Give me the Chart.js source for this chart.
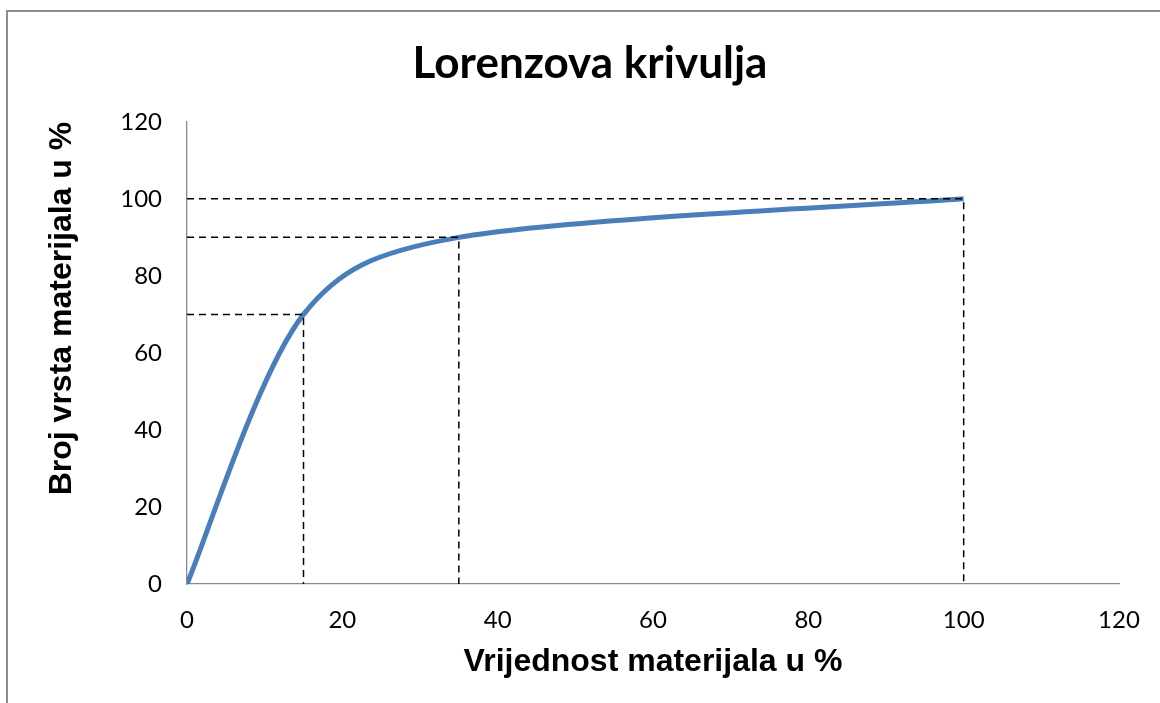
<!DOCTYPE html>
<html>
<head>
<meta charset="utf-8">
<script src="https://cdn.jsdelivr.net/npm/chart.js@4.4.1/dist/chart.umd.min.js"></script>
<style>
  html, body { margin: 0; padding: 0; background: #fff; overflow: hidden; }
  #frame {
    position: absolute;
    left: 6px;
    top: 10px;
    border: 2px solid #8c8c8c;
    width: 1164px;
    height: 700px;
  }
  canvas { display: block; }
</style>
</head>
<body>
<div id="frame">
  <canvas id="chart" width="1164" height="691"></canvas>
</div>
<script>
// curve points (% value, % number of material kinds)
const xValues = [0, 15, 35, 100];
const yValues = [0, 70, 90, 100];

// dashed guide corners
const guideX = [15, 35, 100];
const guideY = [70, 90, 100];

const titleText = "Lorenzova krivulja";
const xTitle = "Vrijednost materijala u %";
const yTitle = "Broj vrsta materijala u %";

const curve = {
    label: "Lorenz",
    data: xValues.map((x, i) => ({ x: x, y: yValues[i] })),
    borderColor: "#4a7ebb",
    borderWidth: 5,
    pointRadius: 0,
    tension: 0.4,
    fill: false,
    order: 2
};

// one dashed dataset per guide: from the y axis to the point, then down to the x axis
const guides = guideX.map((gx, i) => ({
    label: "guide" + i,
    data: [
        { x: 0, y: guideY[i] },
        { x: gx, y: guideY[i] },
        { x: gx, y: 0 }
    ],
    borderColor: "#000",
    borderWidth: 1.5,
    borderDash: [7, 5],
    pointRadius: 0,
    tension: 0,
    fill: false,
    order: 1
}));

function dist(a, b) {
    return Math.hypot(b.x - a.x, b.y - a.y);
}

// Excel style smoothed line: bezier control points per segment,
// 1/6 of the neighbour span, capped at half the segment length
const excelSmooth = {
    id: "excelSmooth",
    beforeDatasetDraw(chart, args) {
        if (args.index !== 0) return;
        const pts = args.meta.dataset.points; // runs chart.js own control point pass first
        const n = pts.length;
        for (let i = 0; i < n - 1; i++) {
            const p0 = pts[Math.max(i - 1, 0)];
            const p1 = pts[i];
            const p2 = pts[i + 1];
            const p3 = pts[Math.min(i + 2, n - 1)];
            const d02 = dist(p0, p2);
            const d12 = dist(p1, p2);
            const d13 = dist(p1, p3);
            const h = d12 / 2;
            let f1, f2;
            if (d02 / 6 < h && d13 / 6 < h) {
                f1 = 1 / 6;
                f2 = 1 / 6;
            } else if (d02 / 6 >= h && d13 / 6 >= h) {
                f1 = h / d02;
                f2 = h / d13;
            } else if (d02 / 6 >= h) {
                f1 = h / d02;
                f2 = h / d02;
            } else {
                f1 = h / d13;
                f2 = h / d13;
            }
            p1.cp2x = p1.x + (p2.x - p0.x) * f1;
            p1.cp2y = p1.y + (p2.y - p0.y) * f1;
            p2.cp1x = p2.x - (p3.x - p1.x) * f2;
            p2.cp1y = p2.y - (p3.y - p1.y) * f2;
        }
    }
};

const ctx = document.getElementById("chart").getContext("2d");

const chart = new Chart(ctx, {
    type: "scatter",
    data: {
        datasets: [curve, ...guides]
    },
    plugins: [excelSmooth],
    options: {
        responsive: false,
        animation: false,
        showLine: true,
        layout: {
            padding: { left: 53, right: 53, top: 0, bottom: 0 }
        },
        plugins: {
            legend: { display: false },
            tooltip: { enabled: false },
            title: {
                display: true,
                text: titleText,
                color: "#000",
                font: { family: "Lato", size: 44, weight: "bold" },
                padding: { top: 25, bottom: 32 }
            }
        },
        scales: {
            x: {
                type: "linear",
                min: 0,
                max: 120,
                ticks: {
                    stepSize: 20,
                    color: "#000",
                    padding: 22,
                    font: { family: "Lato", size: 24 }
                },
                grid: { display: false, drawTicks: false },
                border: { display: true, color: "#8a8a8a", width: 1.3 },
                title: {
                    display: true,
                    text: xTitle,
                    color: "#000",
                    font: { family: "Liberation Sans", size: 32, weight: "bold" },
                    padding: { top: 0, bottom: 22 }
                },
                afterFit: (scale) => { scale.height = 119; }
            },
            y: {
                min: 0,
                max: 120,
                ticks: {
                    stepSize: 20,
                    color: "#000",
                    padding: 25,
                    font: { family: "Lato", size: 24 }
                },
                grid: { display: false, drawTicks: false },
                border: { display: true, color: "#8a8a8a", width: 1.3 },
                title: {
                    display: true,
                    text: yTitle,
                    align: "end",
                    color: "#000",
                    font: { family: "Liberation Sans", size: 32, weight: "bold" },
                    padding: { top: -18, bottom: 0 }
                },
                afterFit: (scale) => { scale.width = 126; }
            }
        }
    }
});
</script>
</body>
</html>
